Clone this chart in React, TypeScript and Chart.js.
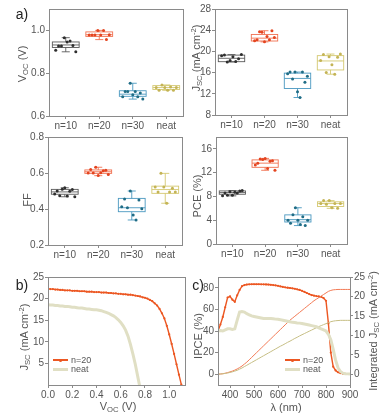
import React, { useEffect, useRef } from "react";
import { Chart, registerables } from "chart.js";
Chart.register(...registerables);

const FONT = "'Liberation Sans', Arial, Helvetica, sans-serif";
const TICK_COLOR = "#555";
const FRAME = "#8a8a8a";

// ---------- panel a: box plots ----------
const GROUPS = ["n=10", "n=20", "n=30", "neat"];
const BOX_COLORS = ["#5a5a5a", "#f07050", "#4a98c0", "#d4c870"];
const DOT_COLORS = ["#2e2e2e", "#e4441f", "#1f6c85", "#c4b455"];

const VOC_TICKS = [0.6, 0.8, 1.0];
const VOC_N10 = [0.907, 0.927, 0.927, 0.966, 0.946, 0.95, 0.93, 0.9];
const VOC_N20 = [0.978, 0.978, 0.978, 1.0, 0.978, 0.999, 0.957, 0.98];
const VOC_N30 = [0.69, 0.715, 0.715, 0.753, 0.699, 0.715, 0.69, 0.708, 0.679];
const VOC_NEAT = [0.733, 0.72, 0.745, 0.733, 0.72, 0.735, 0.72, 0.733];
const VOC_Q1 = [0.92, 0.972, 0.692, 0.724];
const VOC_MED = [0.932, 0.98, 0.702, 0.733];
const VOC_Q3 = [0.946, 0.993, 0.718, 0.742];
const VOC_LO = [0.9, 0.957, 0.679, 0.72];
const VOC_HI = [0.966, 1.0, 0.753, 0.745];

const JSC_TICKS = [8, 12, 16, 20, 24, 28];
const JSC_N10 = [19.2, 19.3, 18.0, 18.3, 19.0, 18.1, 18.6, 19.4];
const JSC_N20 = [22.0, 22.2, 23.7, 23.6, 21.8, 22.8, 22.2, 23.9, 22.6];
const JSC_N30 = [15.8, 16.1, 14.8, 16.1, 12.4, 11.3, 16.1, 14.2, 15.3];
const JSC_NEAT = [18.3, 19.4, 16.0, 19.0, 17.5, 15.7, 18.9, 19.5];
const JSC_Q1 = [18.06, 21.96, 13.0, 16.5];
const JSC_MED = [18.7, 22.5, 14.9, 18.2];
const JSC_Q3 = [19.3, 23.2, 15.9, 19.2];
const JSC_LO = [18.0, 21.8, 11.3, 15.7];
const JSC_HI = [19.4, 23.9, 16.1, 19.5];

const FF_TICKS = [0.2, 0.4, 0.6, 0.8];
const FF_N10 = [0.483, 0.5, 0.474, 0.51, 0.518, 0.472, 0.498, 0.508, 0.468];
const FF_N20 = [0.6, 0.62, 0.6, 0.632, 0.586, 0.602, 0.612, 0.615, 0.592];
const FF_N30 = [0.413, 0.455, 0.407, 0.5, 0.367, 0.339, 0.45, 0.402];
const FF_NEAT = [0.522, 0.495, 0.598, 0.522, 0.432, 0.495, 0.515, 0.495];
const FF_Q1 = [0.482, 0.598, 0.385, 0.487];
const FF_MED = [0.495, 0.607, 0.407, 0.508];
const FF_Q3 = [0.509, 0.617, 0.459, 0.527];
const FF_LO = [0.468, 0.585, 0.339, 0.432];
const FF_HI = [0.518, 0.632, 0.5, 0.598];

const PCE_TICKS = [0, 4, 8, 12, 16];
const PCE_N10 = [8.1, 8.6, 8.2, 8.8, 8.2, 8.7, 8.6, 8.9, 9.0];
const PCE_N20 = [13.3, 13.6, 14.3, 14.2, 14.4, 12.7, 13.9, 14.0, 12.4];
const PCE_N30 = [4.0, 3.5, 4.9, 6.1, 4.0, 3.3, 4.6, 3.1, 4.0];
const PCE_NEAT = [6.8, 7.3, 6.7, 7.3, 6.1, 6.8, 6.0, 6.8];
const PCE_Q1 = [8.37, 12.9, 3.7, 6.3];
const PCE_MED = [8.65, 13.6, 4.1, 6.8];
const PCE_Q3 = [8.93, 14.15, 4.9, 7.1];
const PCE_LO = [8.1, 12.4, 3.1, 6.0];
const PCE_HI = [9.0, 14.4, 6.1, 7.3];

// ---------- panel b: J-V ----------
const B_XTICKS = [0, 0.2, 0.4, 0.6, 0.8, 1.0];
const B_YTICKS = [5, 10, 15, 20, 25];
const V_N20 = [0, 0.02, 0.04, 0.06, 0.08, 0.1, 0.12, 0.14, 0.16, 0.18, 0.2, 0.22, 0.24, 0.26, 0.28, 0.3, 0.32, 0.34, 0.36, 0.38, 0.4, 0.42, 0.44, 0.46, 0.48, 0.5, 0.52, 0.54, 0.56, 0.58, 0.6, 0.62, 0.64, 0.66, 0.68, 0.7, 0.72, 0.74, 0.76, 0.78, 0.8, 0.82, 0.84, 0.86, 0.88, 0.9, 0.92, 0.94, 0.96, 0.98, 1.0, 1.02, 1.04, 1.06, 1.08, 1.1];
const J_N20 = [22.3, 22.2, 22.2, 22.1, 22.1, 22.0, 22.0, 21.9, 21.9, 21.9, 21.8, 21.8, 21.8, 21.7, 21.7, 21.7, 21.6, 21.6, 21.6, 21.5, 21.5, 21.5, 21.4, 21.4, 21.4, 21.3, 21.3, 21.2, 21.2, 21.1, 21.1, 21.0, 21.0, 20.9, 20.9, 20.8, 20.7, 20.6, 20.5, 20.3, 20.2, 20.0, 19.7, 19.4, 18.9, 18.4, 17.6, 16.6, 15.4, 13.7, 11.7, 9.5, 7.2, 4.8, 2.4, 0.1];
const V_NEAT = [0, 0.02, 0.04, 0.06, 0.08, 0.1, 0.12, 0.14, 0.16, 0.18, 0.2, 0.22, 0.24, 0.26, 0.28, 0.3, 0.32, 0.34, 0.36, 0.38, 0.4, 0.42, 0.44, 0.46, 0.48, 0.5, 0.52, 0.54, 0.56, 0.58, 0.6, 0.62, 0.64, 0.66, 0.68, 0.7, 0.72, 0.74, 0.76];
const J_NEAT = [18.6, 18.5, 18.5, 18.4, 18.4, 18.3, 18.3, 18.2, 18.2, 18.1, 18.0, 18.0, 17.9, 17.8, 17.8, 17.7, 17.6, 17.6, 17.5, 17.4, 17.4, 17.3, 17.2, 17.0, 16.8, 16.6, 16.3, 16.0, 15.6, 15.1, 14.5, 13.7, 12.7, 11.3, 9.4, 7.2, 4.8, 2.0, -0.8];

// ---------- panel c: IPCE ----------
const C_XTICKS = [400, 500, 600, 700, 800, 900];
const C_YTICKS = [0, 20, 40, 60, 80];
const C_Y2TICKS = [0, 5, 10, 15, 20, 25];
const WL = [350, 360, 370, 380, 390, 400, 410, 420, 430, 440, 450, 460, 470, 480, 490, 500, 510, 520, 530, 540, 550, 560, 570, 580, 590, 600, 610, 620, 630, 640, 650, 660, 670, 680, 690, 700, 710, 720, 730, 740, 750, 760, 770, 780, 790, 800, 810, 820, 830, 840, 850, 860, 870, 880, 890, 900];
const IPCE_N20 = [40, 46, 53, 62, 71, 72, 69, 67, 73, 78, 81.5, 82.5, 83, 83.2, 83.3, 83.3, 83.3, 83.3, 83.2, 83.2, 83.1, 83, 82.8, 82.5, 82.2, 81.8, 81.3, 80.8, 80.4, 80.1, 79.8, 79.5, 79.1, 78.6, 78, 77.2, 76.3, 75.2, 74.2, 73.3, 72.7, 72.3, 72, 71.6, 70.5, 68, 47, 20, 7, 3.5, 1.8, 1, 0.5, 0.3, 0.2, 0.2];
const IPCE_NEAT = [40, 40.5, 40, 41, 42, 42, 41.5, 42, 50, 57.5, 58, 57.5, 56, 55, 54, 53.5, 53, 52.5, 52, 51.5, 51.5, 51.5, 51.5, 51.3, 51, 50.8, 50.5, 50, 49.5, 49, 48.5, 48, 47.8, 47.5, 47.3, 47, 46.5, 46, 45.5, 45, 44.5, 44, 43, 42, 41, 40, 37, 32, 23, 13, 6, 2.5, 1, 0.5, 0.3, 0.2];
const INT_N20 = [0, 0.05, 0.12, 0.25, 0.4, 0.6, 0.8, 1.05, 1.35, 1.7, 2.1, 2.6, 3.1, 3.7, 4.3, 4.9, 5.5, 6.1, 6.7, 7.3, 7.9, 8.5, 9.1, 9.7, 10.3, 10.9, 11.5, 12.1, 12.7, 13.3, 13.9, 14.4, 14.9, 15.4, 15.9, 16.4, 16.9, 17.4, 17.9, 18.4, 18.9, 19.3, 19.7, 20.1, 20.5, 20.9, 21.3, 21.55, 21.7, 21.75, 21.8, 21.8, 21.8, 21.8, 21.8, 21.8];
const INT_NEAT = [0, 0.05, 0.1, 0.2, 0.3, 0.45, 0.6, 0.8, 1.0, 1.3, 1.6, 1.95, 2.3, 2.65, 3.0, 3.35, 3.7, 4.05, 4.4, 4.75, 5.1, 5.45, 5.8, 6.15, 6.5, 6.85, 7.2, 7.5, 7.85, 8.2, 8.5, 8.85, 9.2, 9.5, 9.85, 10.15, 10.45, 10.75, 11.05, 11.35, 11.65, 11.95, 12.25, 12.5, 12.75, 13.0, 13.25, 13.5, 13.65, 13.75, 13.8, 13.85, 13.85, 13.85, 13.85, 13.85];

const ORANGE = "#ec5722";
const ORANGE_LIGHT = "#f27a55";
const BEIGE = "#e0dfc4";
const OLIVE = "#c6be84";

// ---------- helpers ----------
const tickFont = { family: FONT, size: 10 };

function setTicks(arr: number[]) {
  return (s: any) => {
    s.ticks = arr.map((v) => ({ value: v }));
  };
}

const framePlugin = {
  id: "frame",
  afterDraw(chart: any) {
    const { ctx, chartArea: a } = chart;
    ctx.save();
    ctx.strokeStyle = FRAME;
    ctx.lineWidth = 1;
    ctx.strokeRect(Math.round(a.left) + 0.5, Math.round(a.top) + 0.5, Math.round(a.right - a.left), Math.round(a.bottom - a.top));
    ctx.restore();
  },
};

function ChartCanvas({ left, top, width, height, make }: any) {
  const ref = useRef<HTMLCanvasElement>(null);
  useEffect(() => {
    const chart = new Chart(ref.current as HTMLCanvasElement, make());
    return () => chart.destroy();
  }, []);
  return (
    <div style={{ position: "absolute", left, top, width, height }}>
      <canvas ref={ref} width={width} height={height} style={{ width, height, display: "block" }} />
    </div>
  );
}

function axisCommon(extra: any) {
  return {
    grid: { drawOnChartArea: false, drawTicks: true, tickLength: 3, color: FRAME },
    border: { display: false },
    ...extra,
    ticks: { font: tickFont, color: TICK_COLOR, padding: 1, maxRotation: 0, ...(extra.ticks || {}) },
  };
}

function BoxPanel(p: any) {
  const make = () => {
    const JIT = 0.3;
    const datasets = p.points.map((arr: number[], g: number) => ({
      data: arr.map((v, k) => ({ x: g - JIT + (k * 2 * JIT) / (arr.length - 1), y: v })),
      backgroundColor: DOT_COLORS[g],
      borderColor: DOT_COLORS[g],
      pointRadius: 1.5,
      pointBorderWidth: 0,
      showLine: false,
    }));
    const boxPlugin = {
      id: "boxes",
      beforeDatasetsDraw(chart: any) {
        const { ctx } = chart;
        const xs = chart.scales.x;
        const ys = chart.scales.y;
        ctx.save();
        ctx.lineWidth = 0.9;
        for (let g = 0; g < 4; g++) {
          const cx = xs.getPixelForValue(g);
          const hw = xs.getPixelForValue(g + 0.4) - cx;
          const cap = hw * 0.3;
          const y1 = ys.getPixelForValue(p.q1[g]);
          const y3 = ys.getPixelForValue(p.q3[g]);
          const ym = ys.getPixelForValue(p.med[g]);
          const yl = ys.getPixelForValue(p.lo[g]);
          const yh = ys.getPixelForValue(p.hi[g]);
          ctx.strokeStyle = BOX_COLORS[g];
          ctx.strokeRect(cx - hw, y3, 2 * hw, y1 - y3);
          ctx.beginPath();
          ctx.moveTo(cx - hw, ym);
          ctx.lineTo(cx + hw, ym);
          ctx.moveTo(cx, y3);
          ctx.lineTo(cx, yh);
          ctx.moveTo(cx - cap, yh);
          ctx.lineTo(cx + cap, yh);
          ctx.moveTo(cx, y1);
          ctx.lineTo(cx, yl);
          ctx.moveTo(cx - cap, yl);
          ctx.lineTo(cx + cap, yl);
          ctx.stroke();
        }
        ctx.restore();
      },
    };
    return {
      type: "scatter",
      data: { datasets },
      plugins: [boxPlugin, framePlugin],
      options: {
        responsive: false,
        animation: false,
        events: [],
        layout: { padding: { top: p.padTop, right: p.padRight, left: 0, bottom: 0 } },
        plugins: { legend: { display: false }, tooltip: { enabled: false } },
        scales: {
          x: axisCommon({
            type: "linear",
            min: -0.5,
            max: 3.5,
            afterBuildTicks: setTicks([0, 1, 2, 3]),
            afterFit: (s: any) => { s.height = p.xHeight; },
            ticks: { callback: (v: number) => GROUPS[Math.round(v)] },
          }),
          y: axisCommon({
            type: "linear",
            min: p.min,
            max: p.max,
            afterBuildTicks: setTicks(p.ticks),
            afterFit: (s: any) => { s.width = p.yWidth; },
            ticks: { callback: (v: number) => v.toFixed(p.decimals) },
          }),
        },
      },
    };
  };
  return <ChartCanvas left={p.left} top={p.top} width={p.width} height={p.height} make={make} />;
}

function PanelB() {
  const make = () => ({
    type: "scatter",
    data: {
      datasets: [
        {
          data: V_NEAT.map((v, i) => ({ x: v, y: J_NEAT[i] })),
          showLine: true,
          borderColor: BEIGE,
          borderWidth: 3,
          pointRadius: 0,
          clip: 0,
        },
        {
          data: V_N20.map((v, i) => ({ x: v, y: J_N20[i] })),
          showLine: true,
          borderColor: ORANGE,
          backgroundColor: ORANGE,
          borderWidth: 1.4,
          pointRadius: 1.1,
          pointBorderWidth: 0,
          clip: 0,
        },
      ],
    },
    plugins: [framePlugin],
    options: {
      responsive: false,
      animation: false,
      events: [],
      layout: { padding: { top: 12, right: 7, left: 0, bottom: 0 } },
      plugins: { legend: { display: false }, tooltip: { enabled: false } },
      scales: {
        x: axisCommon({
          type: "linear",
          min: 0,
          max: 1.13,
          afterBuildTicks: setTicks(B_XTICKS),
          afterFit: (s: any) => { s.height = 29; },
          ticks: { callback: (v: number) => v.toFixed(1) },
        }),
        y: axisCommon({
          type: "linear",
          min: 0,
          max: 25,
          afterBuildTicks: setTicks(B_YTICKS),
          afterFit: (s: any) => { s.width = 48; },
        }),
      },
    },
  });
  return <ChartCanvas left={0} top={265} width={192} height={149} make={make} />;
}

function PanelC() {
  const make = () => ({
    type: "scatter",
    data: {
      datasets: [
        {
          data: WL.map((w, i) => ({ x: w, y: IPCE_NEAT[i] })),
          showLine: true,
          borderColor: BEIGE,
          borderWidth: 3,
          pointRadius: 0,
          yAxisID: "y",
          clip: 0,
        },
        {
          data: WL.map((w, i) => ({ x: w, y: INT_NEAT[i] })),
          showLine: true,
          borderColor: OLIVE,
          borderWidth: 1,
          pointRadius: 0,
          yAxisID: "y2",
          clip: 0,
        },
        {
          data: WL.map((w, i) => ({ x: w, y: INT_N20[i] })),
          showLine: true,
          borderColor: ORANGE_LIGHT,
          borderWidth: 1,
          pointRadius: 0,
          yAxisID: "y2",
          clip: 0,
        },
        {
          data: WL.map((w, i) => ({ x: w, y: IPCE_N20[i] })),
          showLine: true,
          borderColor: ORANGE,
          backgroundColor: ORANGE,
          borderWidth: 1.4,
          pointRadius: 1.1,
          pointBorderWidth: 0,
          yAxisID: "y",
          clip: 0,
        },
      ],
    },
    plugins: [framePlugin],
    options: {
      responsive: false,
      animation: false,
      events: [],
      layout: { padding: { top: 12, right: 0, left: 0, bottom: 0 } },
      plugins: { legend: { display: false }, tooltip: { enabled: false } },
      scales: {
        x: axisCommon({
          type: "linear",
          min: 350,
          max: 900,
          afterBuildTicks: setTicks(C_XTICKS),
          afterFit: (s: any) => { s.height = 29; },
        }),
        y: axisCommon({
          type: "linear",
          position: "left",
          min: -10,
          max: 90,
          afterBuildTicks: setTicks(C_YTICKS),
          afterFit: (s: any) => { s.width = 23; },
        }),
        y2: axisCommon({
          type: "linear",
          position: "right",
          min: -2.78,
          max: 25,
          afterBuildTicks: setTicks(C_Y2TICKS),
          afterFit: (s: any) => { s.width = 40; },
        }),
      },
    },
  });
  return <ChartCanvas left={195} top={265} width={195} height={149} make={make} />;
}

function Txt({ x, y, rotate, size = 11, children, anchor = "center", color = TICK_COLOR }: any) {
  const tx = anchor === "left" ? "0%" : "-50%";
  return (
    <div
      style={{
        position: "absolute",
        left: x,
        top: y,
        transform: `translate(${tx}, -50%)${rotate ? ` rotate(${rotate}deg)` : ""}`,
        transformOrigin: anchor === "left" ? "left center" : "center center",
        fontFamily: FONT,
        fontSize: size,
        color,
        whiteSpace: "nowrap",
        lineHeight: 1,
      }}
    >
      {children}
    </div>
  );
}

const subStyle = { fontSize: "0.7em", verticalAlign: "-0.25em" };
const supStyle = { fontSize: "0.7em", verticalAlign: "0.5em" };

function JscTitle({ prefix = "" }: any) {
  return (
    <span>
      {prefix}J<span style={subStyle}>SC</span> (mA cm<span style={supStyle}>-2</span>)
    </span>
  );
}

function LegendItem({ x, y, color, width, dot, label }: any) {
  return (
    <>
      <div style={{ position: "absolute", left: x, top: y - width / 2, width: 15, height: width, background: color }} />
      {dot ? (
        <div style={{ position: "absolute", left: x + 6, top: y - 1.5, width: 3, height: 3, borderRadius: 2, background: color }} />
      ) : null}
      <Txt x={x + 18} y={y} size={9} anchor="left">{label}</Txt>
    </>
  );
}

export default function App() {
  return (
    <div style={{ position: "fixed", left: 0, top: 0, width: 390, height: 414, background: "#fff", overflow: "hidden" }}>
      <BoxPanel left={0} top={0} width={190} height={132} padTop={9} padRight={7} yWidth={49} xHeight={16}
        min={0.6} max={1.1} ticks={VOC_TICKS} decimals={1}
        points={[VOC_N10, VOC_N20, VOC_N30, VOC_NEAT]} q1={VOC_Q1} med={VOC_MED} q3={VOC_Q3} lo={VOC_LO} hi={VOC_HI} />
      <BoxPanel left={190} top={0} width={200} height={132} padTop={9} padRight={43} yWidth={25} xHeight={17}
        min={8} max={28} ticks={JSC_TICKS} decimals={0}
        points={[JSC_N10, JSC_N20, JSC_N30, JSC_NEAT]} q1={JSC_Q1} med={JSC_MED} q3={JSC_Q3} lo={JSC_LO} hi={JSC_HI} />
      <BoxPanel left={0} top={128} width={190} height={132} padTop={9} padRight={8} yWidth={48} xHeight={15}
        min={0.2} max={0.8} ticks={FF_TICKS} decimals={1}
        points={[FF_N10, FF_N20, FF_N30, FF_NEAT]} q1={FF_Q1} med={FF_MED} q3={FF_Q3} lo={FF_LO} hi={FF_HI} />
      <BoxPanel left={190} top={128} width={200} height={132} padTop={9} padRight={43} yWidth={26} xHeight={16}
        min={0} max={18} ticks={PCE_TICKS} decimals={0}
        points={[PCE_N10, PCE_N20, PCE_N30, PCE_NEAT]} q1={PCE_Q1} med={PCE_MED} q3={PCE_Q3} lo={PCE_LO} hi={PCE_HI} />
      <PanelB />
      <PanelC />

      <Txt x={22} y={14} size={14} color="#222">a)</Txt>
      <Txt x={22} y={285} size={14} color="#222">b)</Txt>
      <Txt x={198} y={285} size={14} color="#222">c)</Txt>

      <Txt x={23} y={64} rotate={-90}>V<span style={subStyle}>OC</span> (V)</Txt>
      <Txt x={197} y={58} rotate={-90}><JscTitle /></Txt>
      <Txt x={27} y={200} rotate={-90}>FF</Txt>
      <Txt x={197} y={196} rotate={-90}>PCE (%)</Txt>
      <Txt x={25} y={337} rotate={-90}><JscTitle /></Txt>
      <Txt x={118} y={407}>V<span style={subStyle}>OC</span> (V)</Txt>
      <Txt x={198} y={336} rotate={-90}>IPCE (%)</Txt>
      <Txt x={374} y={331} rotate={-90}><JscTitle prefix="Integrated " /></Txt>
      <Txt x={286} y={407}>λ (nm)</Txt>

      <LegendItem x={53} y={360} color={ORANGE} width={1.3} dot label="n=20" />
      <LegendItem x={53} y={369} color={BEIGE} width={3} label="neat" />
      <LegendItem x={285} y={360} color={ORANGE} width={1.3} dot label="n=20" />
      <LegendItem x={285} y={369} color={BEIGE} width={3} label="neat" />
    </div>
  );
}
